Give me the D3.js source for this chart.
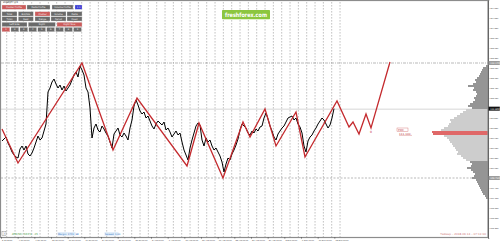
<!DOCTYPE html>
<html><head><meta charset="utf-8">
<script src="https://cdn.jsdelivr.net/npm/d3@7"></script>
<style>
html,body{margin:0;padding:0;background:#fff;overflow:hidden;}
svg{display:block;font-family:"DejaVu Sans",Arial,sans-serif;}
</style></head><body>
<svg id="c" width="500" height="244"></svg>
<script>
// ---------------- DATA ----------------
const symbol = "USDJPY,H1";
// H1 closes sampled along the chart (one value per sample step)
const prices = [
 110.83,110.89,110.95,110.77,110.65,110.50,110.41,110.35,110.32,110.59,
 110.68,110.56,110.68,110.44,110.38,110.47,110.62,110.80,110.98,110.86,
 110.92,111.13,111.34,112.30,112.42,112.60,112.69,112.54,112.42,112.51,
 112.36,112.48,112.33,112.42,112.51,112.66,112.81,112.90,112.75,113.08,
 112.96,112.81,112.42,112.30,111.82,110.92,111.22,111.34,111.16,111.10,
 111.28,111.19,111.07,110.98,110.80,110.62,111.04,111.13,111.22,111.01,
 110.95,111.07,110.98,110.86,111.22,111.46,111.88,112.06,111.91,111.73,
 111.64,111.70,111.52,111.58,111.43,111.28,111.19,111.34,111.43,111.37,
 111.31,111.40,111.16,111.22,111.10,110.95,111.04,111.13,111.01,111.07,
 110.80,110.56,110.41,110.26,110.62,110.86,111.07,111.28,111.37,111.31,
 110.86,110.68,110.92,110.80,110.86,110.68,110.56,110.62,110.50,110.38,
 110.20,109.90,110.14,110.32,110.26,110.44,110.56,110.71,110.89,111.16,
 111.34,111.28,111.22,111.07,111.01,111.13,111.07,111.19,111.13,111.25,
 111.28,111.52,111.67,111.49,111.28,111.13,110.95,110.86,111.04,111.13,
 111.22,111.28,111.40,111.52,111.55,111.58,111.46,111.52,111.34,111.25,
 111.07,110.68,110.50,110.83,110.95,111.01,111.13,111.22,111.34,111.43,
 111.52,111.46,111.34,111.22,111.31,111.52,111.80
];
// ZigZag pivots (sample position, price); the tail is the projected path
const zigzagPos   = [0, 8, 40, 55.5, 67.5, 92.5, 98.5, 110.5, 120.5, 124, 131.5, 137, 147, 151.5, 167.5, 173.5, 175.5, 178.5, 182, 184.5, 194];
const zigzagPrice = [111.19,110.17,113.17,110.56,112.12,110.08,111.37,109.72,111.40,110.95,111.79,110.68,111.70,110.35,112.03,111.25,111.40,111.04,111.64,111.22,113.20];

const levelHigh = 113.17, levelLow = 109.72, currentPrice = 111.80;
const yTickValues = [114.82,114.52,114.22,113.92,113.62,113.32,113.02,112.72,112.42,112.12,111.82,111.52,111.22,110.92,110.62,110.32,110.02,109.72,109.42,109.12,108.82,108.52,108.22];
const dateLabels = ["2 Jul 2018","4 Jul 16:00","9 Jul 08:00","12 Jul 00:00","16 Jul 16:00","19 Jul 08:00","24 Jul 00:00","26 Jul 16:00","31 Jul 08:00","3 Aug 00:00","7 Aug 16:00","10 Aug 08:00","15 Aug 00:00","17 Aug 16:00","22 Aug 08:00","27 Aug 00:00","29 Aug 16:00","3 Sep 08:00","6 Sep 00:00","10 Sep 16:00","13 Sep 08:00"];

// Volume profile (top price of first bin, bin step, volumes per bin from top to bottom)
const profileTop = 113.11, profileStep = 0.06;
const profileVolumes = [20,50,60,70,80,90,110,130,120,150,200,140,150,120,110,120,140,130,150,180,200,160,
 220,250,280,310,340,380,370,390,400,440,470,560,550,440,410,390,380,360,350,330,320,300,310,270,250,220,
 180,160,170,210,170,150,130,140,160,120,110,100,90,80,70,60,50,30,20];
const valueAreaFrom = 22, valueAreaTo = 47, pocFrom = 33, pocTo = 34;
const pocPrice = 111.10;

// ---------------- SCALES ----------------
const svg = d3.select("#c");
const x = d3.scaleLinear().domain([0, 243]).range([2, 488]);
const y = d3.scaleLinear().domain([107.92, 115.06]).range([238, 0]);
const vx = d3.scaleLinear().domain([0, 560]).range([488, 432]);
const plotBottom = 237, plotRight = 488;

// ---------------- GRID ----------------
const gridPos = d3.range(2.35, 170, 4.1667);
svg.append("g").selectAll("line").data(gridPos).join("line")
  .attr("x1", d => x(d)).attr("x2", d => x(d)).attr("y1", 2).attr("y2", plotBottom)
  .attr("stroke", "#9a9a9a").attr("stroke-width", 0.6).attr("stroke-dasharray", "1.6,1.4");

// level lines
svg.append("line").attr("x1", 1).attr("x2", plotRight).attr("y1", y(levelHigh)).attr("y2", y(levelHigh))
  .attr("stroke", "#8a8a8a").attr("stroke-width", 0.6).attr("stroke-dasharray", "3,1,1,1");
svg.append("line").attr("x1", 1).attr("x2", plotRight).attr("y1", y(currentPrice)+0.5).attr("y2", y(currentPrice)+0.5)
  .attr("stroke", "#c4c4c4").attr("stroke-width", 0.7);
svg.append("line").attr("x1", 1).attr("x2", plotRight).attr("y1", y(levelLow)).attr("y2", y(levelLow))
  .attr("stroke", "#8a8a8a").attr("stroke-width", 0.6).attr("stroke-dasharray", "2,1.5");

// ---------------- VOLUME PROFILE ----------------
svg.append("g").selectAll("rect").data(profileVolumes).join("rect")
  .attr("x", d => vx(d)).attr("width", d => plotRight - vx(d))
  .attr("y", (d, j) => y(profileTop - j * profileStep))
  .attr("height", (d, j) => y(profileTop - (j + 1) * profileStep) - y(profileTop - j * profileStep))
  .attr("fill", (d, j) => (j >= pocFrom && j <= pocTo) ? "#e06868" : (j >= valueAreaFrom && j <= valueAreaTo) ? "#cdcdcd" : "#959595");

// ---------------- PRICE ----------------
const line = d3.line().x((d, i) => x(i)).y(d => y(d));
svg.append("path").datum(prices).attr("d", line)
  .attr("fill", "none").attr("stroke", "#000").attr("stroke-width", 1).attr("stroke-linejoin", "round");

// ---------------- ZIGZAG ----------------
const zz = zigzagPos.map((p, k) => [p, zigzagPrice[k]]);
svg.append("path").datum(zz).attr("d", d3.line().x(d => x(d[0])).y(d => y(d[1])))
  .attr("fill", "none").attr("stroke", "#c42a2e").attr("stroke-width", 1.3).attr("stroke-linejoin", "miter");
svg.append("text").attr("x", x(zigzagPos[19])).attr("y", y(zigzagPrice[19]) + 5).attr("text-anchor", "middle")
  .attr("font-size", 3).attr("fill", "#c42a2e").text("0");

// POC labels
svg.append("rect").attr("x", 397).attr("y", y(pocPrice) - 4).attr("width", 11).attr("height", 3.6)
  .attr("fill", "none").attr("stroke", "#d06a6a").attr("stroke-width", 0.4);
svg.append("text").attr("x", 398).attr("y", y(pocPrice) - 1.2).attr("font-size", 2.8).attr("fill", "#c04040").text("POC");
svg.append("text").attr("x", 399).attr("y", y(pocPrice) + 2.6).attr("font-size", 2.8).attr("fill", "#c04040")
  .text(d3.format(".3f")(pocPrice));
svg.append("line").attr("x1", 399).attr("x2", 412).attr("y1", y(pocPrice) + 3.4).attr("y2", y(pocPrice) + 3.4)
  .attr("stroke", "#d06a6a").attr("stroke-width", 0.4);

// ---------------- FRAME & AXES ----------------
svg.append("rect").attr("x", 0.5).attr("y", 0.5).attr("width", plotRight - 0.5).attr("height", plotBottom)
  .attr("fill", "none").attr("stroke", "#8c8c8c").attr("stroke-width", 1.2);

const boxes = [[levelHigh, "#9c9c9c"], [currentPrice, "#111"], [levelLow, "#9c9c9c"]];
const nearBox = v => boxes.some(b => Math.abs(y(b[0]) - y(v)) < 4.5);

const ya = svg.append("g").attr("transform", `translate(${plotRight},0)`)
  .call(d3.axisRight(y).tickValues(yTickValues).tickSize(1.2).tickFormat(d => nearBox(d) ? "" : d3.format(".3f")(d)));
ya.select(".domain").attr("stroke", "#666");
ya.selectAll("line").attr("stroke", "#666");
ya.selectAll("text").attr("font-size", 2.3).attr("fill", "#444").attr("x", 2.2);

// price boxes on axis
boxes.forEach(([v, c]) => {
  svg.append("rect").attr("x", plotRight + 0.6).attr("y", y(v) - 2).attr("width", 11.2).attr("height", 4).attr("fill", c);
  svg.append("text").attr("x", plotRight + 2.2).attr("y", y(v) + 0.9).attr("font-size", 2.3).attr("fill", "#fff")
    .text(d3.format(".3f")(v));
});

const xTicks = dateLabels.map((d, k) => -0.5 + k * 8.3333);
const xa = svg.append("g").attr("transform", `translate(0,${plotBottom})`)
  .call(d3.axisBottom(x).tickValues(xTicks).tickSize(1.5).tickFormat((d, k) => dateLabels[k]));
xa.select(".domain").remove();
xa.selectAll("line").attr("stroke", "#666");
xa.selectAll("text").attr("font-size", 2.2).attr("fill", "#444").attr("text-anchor", "start").attr("dx", 0.6).attr("y", 2);

// ---------------- UI OVERLAYS ----------------
svg.append("text").attr("x", 3).attr("y", 3.4).attr("font-size", 2.6).attr("fill", "#333").text("\u25BE" + symbol);

const btnColor = {g: "#6a6a6a", r: "#cc5c5c", b: "#3b3bd6"};
const buttons = [
  [2, 5, 24, 4.3, "Cluster Profile", "r"], [27, 5, 23, 4.3, "Delta Profile", "g"], [52, 5, 21, 4.3, "Volume Profile", "g"], [75, 5, 7, 4.3, "1:1", "b"],
  [2, 11.7, 15, 4.3, "Total", "g"], [18.3, 11.7, 15, 4.3, "Bid/Ask", "g"], [35, 11.7, 15, 4.3, "Cluster", "r"], [51, 11.7, 15, 4.3, "Volume", "g"], [67, 11.7, 15, 4.3, "Delta", "g"],
  [2, 16.7, 15, 4.3, "Ticks", "g"], [18.3, 16.7, 15, 4.3, "Real", "g"], [35, 16.7, 15, 4.3, "Range", "g"], [51, 16.7, 15, 4.3, "Period", "g"], [67, 16.7, 15, 4.3, "Fixed", "g"],
  [2, 22.3, 25, 4.3, "Left Side", "g"], [28.3, 22.3, 27, 4.3, "Right", "g"], [57, 22.3, 25, 4.3, "Right Now", "r"]
];
for (let k = 0; k < 9; k++) buttons.push([2 + k * 8.95, 27.4, 7.8, 4.3, String(k + 1), k === 0 ? "r" : "g"]);
const bg = svg.append("g").selectAll("g").data(buttons).join("g");
bg.append("rect").attr("x", d => d[0]).attr("y", d => d[1]).attr("width", d => d[2]).attr("height", d => d[3])
  .attr("fill", d => btnColor[d[5]]).attr("stroke", "#ddd").attr("stroke-width", 0.3);
bg.append("text").attr("x", d => d[0] + d[2] / 2).attr("y", d => d[1] + 3).attr("text-anchor", "middle")
  .attr("font-size", 2.3).attr("fill", "#f2f2f2").text(d => d[4]);

// logo
svg.append("rect").attr("x", 222).attr("y", 10).attr("width", 48).attr("height", 9.3).attr("fill", "#8cc63f").attr("rx", 0.8);
svg.append("text").attr("x", 246).attr("y", 16.8).attr("text-anchor", "middle").attr("font-size", 6)
  .attr("font-weight", "bold").attr("fill", "#fff").attr("textLength", 42).attr("lengthAdjust", "spacingAndGlyphs")
  .text("freshforex.com");

// bottom status line
svg.append("rect").attr("x", 2).attr("y", 231.5).attr("width", 4).attr("height", 4).attr("fill", "#fff").attr("stroke", "#777").attr("stroke-width", 0.4);
svg.append("text").attr("x", 4).attr("y", 234.6).attr("text-anchor", "middle").attr("font-size", 3).attr("fill", "#333").text("?");
svg.append("text").attr("x", 12).attr("y", 235).attr("font-size", 2.6).attr("fill", "#3a9a3a").text("ATR(50): 60   P/L: -35");
svg.append("rect").attr("x", 57.5).attr("y", 232).attr("width", 18).attr("height", 3.8).attr("fill", "#e3eefa");
svg.append("text").attr("x", 58).attr("y", 235).attr("font-size", 2.4).attr("fill", "#2a6fc0").text("Margin: 1741: 98");
svg.append("rect").attr("x", 104.5).attr("y", 232).attr("width", 14).attr("height", 3.8).attr("fill", "#e3eefa");
svg.append("text").attr("x", 105).attr("y", 235).attr("font-size", 2.4).attr("fill", "#2a6fc0").text("Spread: 1.00");
svg.append("text").attr("x", 486).attr("y", 235).attr("text-anchor", "end").attr("font-size", 2.8).attr("fill", "#d07a7a")
  .text("Таймер – 2018.09.14 – 07:11:00");
</script>
</body></html>
